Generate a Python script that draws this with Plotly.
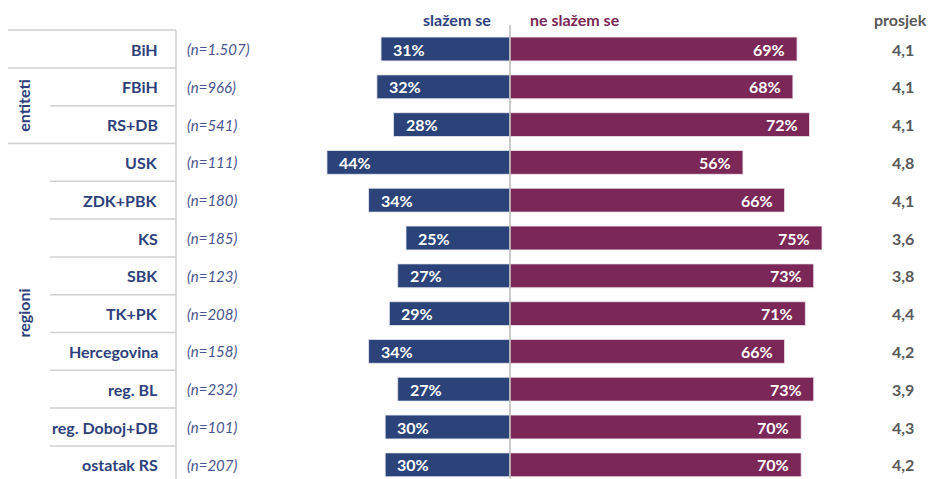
import plotly.graph_objects as go

categories = ["BiH", "FBiH", "RS+DB", "USK", "ZDK+PBK", "KS", "SBK", "TK+PK",
              "Hercegovina", "reg. BL", "reg. Doboj+DB", "ostatak RS"]
n_labels = ["(n=1.507)", "(n=966)", "(n=541)", "(n=111)", "(n=180)", "(n=185)",
            "(n=123)", "(n=208)", "(n=158)", "(n=232)", "(n=101)", "(n=207)"]
agree = [31, 32, 28, 44, 34, 25, 27, 29, 34, 27, 30, 30]
disagree = [69, 68, 72, 56, 66, 75, 73, 71, 66, 73, 70, 70]
averages = ["4,1", "4,1", "4,1", "4,8", "4,1", "3,6", "3,8", "4,4", "4,2", "3,9", "4,3", "4,2"]
groups = [("entiteti", 1, 2), ("regioni", 3, 11)]

W, H = 933, 479
CENTER_PX = 510
PX_PER_PCT = 4.16
ROW0_PX = 49
PITCH = 37.8

BLUE = "#2b4379"
PURPLE = "#7b2757"
NAVY_TXT = "#2e3f7c"
GRAY_LINE = "#d0d0d0"
FONT = "Lato"

x_range = [-CENTER_PX / PX_PER_PCT, (W - CENTER_PX) / PX_PER_PCT]
y_range = [(H - ROW0_PX) / PITCH, -ROW0_PX / PITCH]

fig = go.Figure()
fig.add_trace(go.Bar(
    y=categories, x=[-a for a in agree], orientation="h", base=0,
    marker=dict(color=BLUE, line=dict(color="#e6e8f0", width=0.8)), width=0.63,
    hoverinfo="skip", name="slažem se"))
fig.add_trace(go.Bar(
    y=categories, x=disagree, orientation="h",
    marker=dict(color=PURPLE, line=dict(color="#f0e6ec", width=0.8)), width=0.63,
    hoverinfo="skip", name="ne slažem se"))

ann = []
off = 10 / PX_PER_PCT
for c, a, d, n, av in zip(categories, agree, disagree, n_labels, averages):
    ann.append(dict(x=-a + off, y=c, xref="x", yref="y", text=f"<b>{a}%</b>",
                    xanchor="left", showarrow=False,
                    font=dict(family=FONT, size=16, color="white")))
    ann.append(dict(x=d - off, y=c, xref="x", yref="y", text=f"<b>{d}%</b>",
                    xanchor="right", showarrow=False,
                    font=dict(family=FONT, size=16, color="white")))
    ann.append(dict(x=160 / W, y=c, xref="paper", yref="y", text=f"<b>{c}</b>",
                    xanchor="right", showarrow=False,
                    font=dict(family=FONT, size=16, color=NAVY_TXT)))
    ann.append(dict(x=185 / W, y=c, xref="paper", yref="y", text=f"<i>{n}</i>",
                    xanchor="left", showarrow=False,
                    font=dict(family=FONT, size=15, color="#4a5590")))
    ann.append(dict(x=903 / W, y=c, xref="paper", yref="y", text=f"<b>{av}</b>",
                    xanchor="center", showarrow=False,
                    font=dict(family=FONT, size=16, color="#595959")))

# headers
for txt, xp, col in [("slažem se", 457, NAVY_TXT), ("ne slažem se", 575, PURPLE),
                     ("prosjek", 900, "#595959")]:
    ann.append(dict(x=xp / W, y=1 - 19 / H, xref="paper", yref="paper",
                    text=f"<b>{txt}</b>", showarrow=False, xanchor="center",
                    yanchor="middle", font=dict(family=FONT, size=16, color=col)))

shapes = []
for name, i0, i1 in groups:
    ymid = (i0 + i1) / 2
    ann.append(dict(x=24 / W, y=ymid, xref="paper", yref="y", text=f"<b>{name}</b>",
                    textangle=-90, showarrow=False, xanchor="center", yanchor="middle",
                    font=dict(family=FONT, size=16, color=NAVY_TXT)))

group_starts = {0, 1, 3}
for i in range(len(categories)):
    x0 = 8 / W if i in group_starts else 50 / W
    shapes.append(dict(type="line", xref="paper", yref="y", x0=x0, x1=176 / W,
                       y0=i - 0.5, y1=i - 0.5, line=dict(color=GRAY_LINE, width=1.5)))
shapes.append(dict(type="line", xref="paper", yref="y", x0=8 / W, x1=176 / W,
                   y0=len(categories) - 0.5, y1=len(categories) - 0.5,
                   line=dict(color=GRAY_LINE, width=1.5)))
shapes.append(dict(type="line", xref="paper", yref="paper", x0=176 / W, x1=176 / W,
                   y0=0, y1=1 - 30 / H, line=dict(color=GRAY_LINE, width=1.5)))
shapes.append(dict(type="line", xref="x", yref="paper", x0=0, x1=0,
                   y0=0, y1=1 - 25 / H, line=dict(color="#b8b8b8", width=1.5),
                   layer="above"))

fig.update_layout(
    width=W, height=H, margin=dict(l=0, r=0, t=0, b=0),
    paper_bgcolor="white", plot_bgcolor="white",
    barmode="overlay", showlegend=False,
    xaxis=dict(range=x_range, visible=False, fixedrange=True),
    yaxis=dict(range=y_range, visible=False, type="category",
               categoryorder="array", categoryarray=categories, fixedrange=True),
    annotations=ann, shapes=shapes,
)
fig.write_html("out.html", config={"displayModeBar": False},
               post_script="document.body.style.margin='0';document.body.style.overflow='hidden';")
